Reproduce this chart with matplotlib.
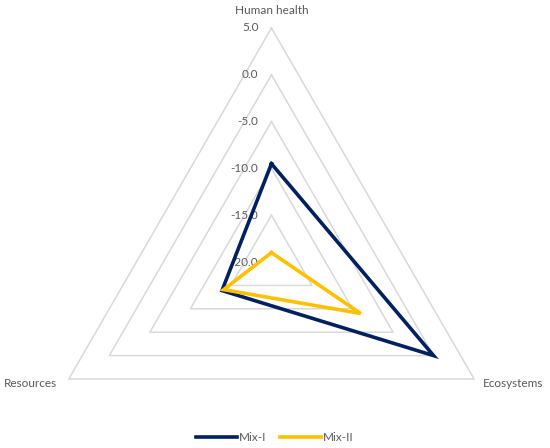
import numpy as np
import matplotlib.pyplot as plt
from matplotlib.lines import Line2D

plt.rcParams['font.family'] = ['Lato', 'DejaVu Sans']

categories = ["Human health", "Ecosystems", "Resources"]
mix_1 = [-9.5, 0.0, -13.9]
mix_2 = [-19.0, -9.0, -14.1]
ring_values = [-15.0, -10.0, -5.0, 0.0, 5.0]
tick_labels = ["-20.0", "-15.0", "-10.0", "-5.0", "0.0", "5.0"]
rmin, rmax = -20.0, 5.0

navy = "#002060"
gold = "#FFC000"
grey_text = "#595959"
fs = 8.5

# axes angles: top, bottom right, bottom left
angles = np.radians([90, -30, 210])


def to_xy(values):
    r = np.asarray(values) - rmin
    return r * np.cos(angles), r * np.sin(angles)


fig = plt.figure(figsize=(5.5, 4.48), dpi=100)
ax = fig.add_axes([0, 0, 1, 1])
ax.set_xlim(-29.0, 29.76)
ax.set_ylim(-19.87, 27.99)
ax.set_aspect('equal')
ax.axis('off')

# triangular grid
for v in ring_values:
    x, y = to_xy([v, v, v])
    ax.plot(np.append(x, x[0]), np.append(y, y[0]), color="#d9d9d9", lw=1.1, zorder=1)

# tick labels along top axis
for v, lab in zip([rmin] + ring_values, tick_labels):
    ax.text(-1.4, v - rmin, lab, ha='right', va='center', fontsize=fs, color=grey_text)

# category labels
ax.text(0, 26.9, categories[0], ha='center', va='center', fontsize=fs, color=grey_text)
xr, yr = to_xy([rmax] * 3)
ax.text(xr[1] + 0.95, yr[1] - 0.45, categories[1], ha='left', va='center', fontsize=fs, color=grey_text)
ax.text(xr[2] - 1.25, yr[2] - 0.45, categories[2], ha='right', va='center', fontsize=fs, color=grey_text)

for vals, col in [(mix_1, navy), (mix_2, gold)]:
    x, y = to_xy(vals)
    ax.plot(np.append(x, x[0]), np.append(y, y[0]), color=col, lw=2.6,
            solid_joinstyle='miter', zorder=3)

handles = [Line2D([], [], color=navy, lw=2.6), Line2D([], [], color=gold, lw=2.6)]
leg = fig.legend(handles, ["Mix-I", "Mix-II"], loc='lower center', bbox_to_anchor=(0.5, -0.012),
                 ncol=2, frameon=False, fontsize=fs, handlelength=3.4, handletextpad=0.2,
                 columnspacing=1.2)
for t in leg.get_texts():
    t.set_color(grey_text)

fig.savefig("out.png", dpi=100)
